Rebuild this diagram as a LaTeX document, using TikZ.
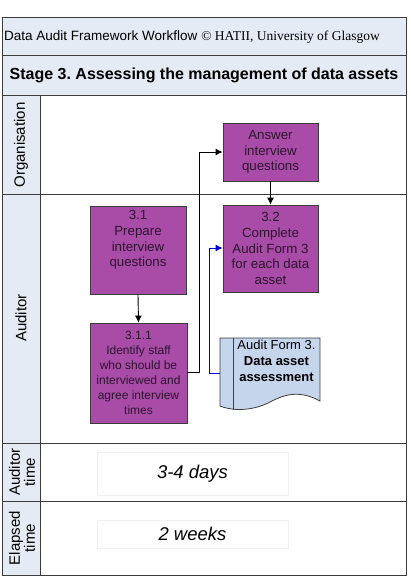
\documentclass[tikz,border=0pt]{standalone}
\usepackage{fontspec}
\setmainfont{Liberation Sans}
\newfontfamily\serifx{Liberation Serif}
\usetikzlibrary{arrows.meta}
\frenchspacing
\definecolor{hdr}{RGB}{228,235,245}
\definecolor{purp}{RGB}{168,76,168}
\definecolor{purptxt}{RGB}{45,20,45}
\definecolor{docfill}{RGB}{197,213,236}
\definecolor{frame}{RGB}{60,60,60}
\tikzset{
  proc/.style={draw=frame, fill=purp, line width=0.8pt, text=purptxt, align=center, font=\fontsize{13.3}{15.8}\selectfont, inner sep=0pt},
  smallproc/.style={proc, font=\fontsize{12}{15}\selectfont},
  lanelbl/.style={rotate=90, font=\fontsize{15}{15}\selectfont, align=center},
  conn/.style={line width=0.9pt, -{Latex[length=7pt,width=7pt]}},
  timebox/.style={draw=black!6, line width=0.6pt, font=\fontsize{18.5}{20}\selectfont\itshape},
  rule/.style={draw=frame, line width=1pt}
}
\begin{document}
\begin{tikzpicture}[x=1pt,y=-1pt]
\useasboundingbox (0,0) rectangle (411,576);
% header rows
\fill[hdr] (2,17) rectangle (406,95);
\fill[hdr] (2,95) rectangle (40,575);
\draw[rule] (2,17) rectangle (406,575);
\draw[rule] (2,55) -- (406,55);
\draw[rule] (2,95) -- (406,95);
\draw[rule] (2,194) -- (406,194);
\draw[rule] (2,443) -- (406,443);
\draw[rule] (2,501) -- (406,501);
\draw[rule] (40,95) -- (40,575);
\node[anchor=west, inner sep=0pt] (t1) at (4,37) {\fontsize{13.5}{15}\selectfont Data Audit Framework Workflow {\serifx © HATII, University of Glasgow}};
\node[anchor=center, inner sep=0pt] (t2) at (204,75) {\fontsize{16}{18}\selectfont\bfseries Stage 3. Assessing the management of data assets};
% lane labels
\node[lanelbl] (l1) at (21,145) {Organisation};
\node[lanelbl] (l2) at (21,318) {Auditor};
\node[lanelbl] (l3) at (22,472) {Auditor\\time};
\node[lanelbl] (l4) at (22,538) {Elapsed\\time};
% process boxes
\node[proc, minimum width=95pt, minimum height=58pt] (ans) at (270.5,152) {Answer\\interview\\questions};
\node[proc, minimum width=95pt, minimum height=87pt] (s32) at (270.5,248.5) {3.2\\Complete\\Audit Form 3\\for each data\\asset};
\node[proc, minimum width=96pt, minimum height=88pt] (s31) at (138,250) {};
\node[proc, fill=none, draw=none, anchor=center] (s31t) at (138,240) {3.1\\Prepare\\interview\\questions};
\node[smallproc, minimum width=97pt, minimum height=100pt] (s311) at (138.5,373) {3.1.1\\Identify staff\\who should be\\interviewed and\\agree interview\\times};
% document
\draw[frame, fill=docfill, line width=0.8pt] (220,338) -- (320,338) -- (320,401)
  .. controls (300,390) and (285,394) .. (270,402)
  .. controls (255,410) and (235,412) .. (220,406) -- cycle;
\draw[frame, line width=0.8pt] (233,338) -- (233,410);
\coordinate (docl) at (220,373);
\node[align=center, font=\fontsize{13}{16}\selectfont, inner sep=0pt] (doc) at (276.5,361) {Audit Form 3.\\\textbf{Data asset}\\\textbf{assessment}};
% connectors
\draw[conn] (s31.south) -- (s311.north);
\draw[conn] (s311.east |- 0,372) -- (199,372) -- (199,152) -- (ans.west);
\draw[conn] (ans.south) -- (s32.north);
\draw[conn, draw=blue!85!black] (docl) -- (209,373) -- (209,248) -- (s32.west |- 0,248);
% times
\node[timebox, minimum width=191pt, minimum height=43pt] (at) at (192.5,473.5) {3-4 days};
\node[timebox, minimum width=191pt, minimum height=28pt] (et) at (192.5,534) {2 weeks};
\end{tikzpicture}
\end{document}
